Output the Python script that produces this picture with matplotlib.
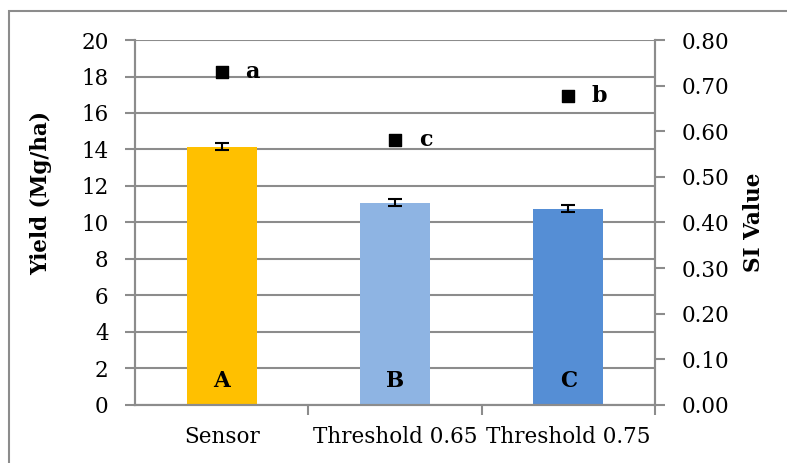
import matplotlib.pyplot as plt
from matplotlib.patches import Rectangle

categories = ["Sensor", "Threshold 0.65", "Threshold 0.75"]
yield_vals = [14.15, 11.08, 10.75]
yield_err = [0.2, 0.2, 0.2]
si_vals = [0.730, 0.580, 0.678]
si_letters = ["a", "c", "b"]
bar_letters = ["A", "B", "C"]
bar_colors = ["#FFC000", "#8EB4E3", "#558ED5"]

plt.rcParams['font.family'] = ['DejaVu Serif']
grid_c = "#8c8c8c"
fs = 15.5

fig = plt.figure(figsize=(7.87, 4.63), dpi=100)
ax = fig.add_axes([0.1715, 0.1253, 0.6607, 0.7883])
ax2 = ax.twinx()

x = list(range(len(categories)))
ax.bar(x, yield_vals, width=0.404, color=bar_colors, zorder=2)
ax.errorbar(x, yield_vals, yerr=yield_err, fmt='none', ecolor='black',
            elinewidth=1.5, capsize=5, capthick=1.5, zorder=3)
for xi, lab in zip(x, bar_letters):
    ax.text(xi, 1.3, lab, ha='center', va='center', fontsize=fs, fontweight='bold')

ax.set_xlim(-0.5, 2.5)
ax.set_ylim(0, 20)
ax.set_yticks(range(0, 21, 2))
ax.yaxis.grid(True, color=grid_c, linewidth=1.5, zorder=0)
ax.set_axisbelow(True)
ax.set_xticks(x)
ax.set_xticklabels(categories, fontsize=fs)
ax.set_xticks([0.5, 1.5, 2.5], minor=True)
ax.tick_params(axis='x', which='major', length=0, pad=15)
ax.tick_params(axis='x', which='minor', length=7, width=1.5, color=grid_c)
ax.tick_params(axis='y', labelsize=fs, length=7, width=1.5, color=grid_c, pad=12)
ax.set_ylabel("Yield (Mg/ha)", fontsize=fs, fontweight='bold')
ax.yaxis.set_label_coords(-0.16, 0.58)

ax2.scatter(x, si_vals, marker='s', s=70, color='black', zorder=4)
for xi, yi, lab in zip(x, si_vals, si_letters):
    ax2.annotate(lab, (xi, yi), xytext=(22, 0), textcoords='offset points',
                 ha='center', va='center', fontsize=16, fontweight='bold')
ax2.set_ylim(0, 0.8)
ax2.set_yticks([i / 10 for i in range(9)])
ax2.set_yticklabels(["%.2f" % (i / 10) for i in range(9)])
ax2.tick_params(axis='y', labelsize=fs, length=7, width=1.5, color=grid_c, pad=12)
ax2.set_ylabel("SI Value", fontsize=fs, fontweight='bold', labelpad=10)

for a in (ax, ax2):
    for side in a.spines:
        a.spines[side].set_visible(False)
    for side in ('left', 'right', 'bottom'):
        a.spines[side].set_visible(True)
        a.spines[side].set_color(grid_c)
        a.spines[side].set_linewidth(1.5)

# outer frame of the chart
fig.patches.append(Rectangle((9 / 787, -0.1), 1.2, (463 - 11) / 463 + 0.1,
                             transform=fig.transFigure, fill=False,
                             edgecolor=grid_c, linewidth=1.5))

plt.savefig('out.png', dpi=100)
